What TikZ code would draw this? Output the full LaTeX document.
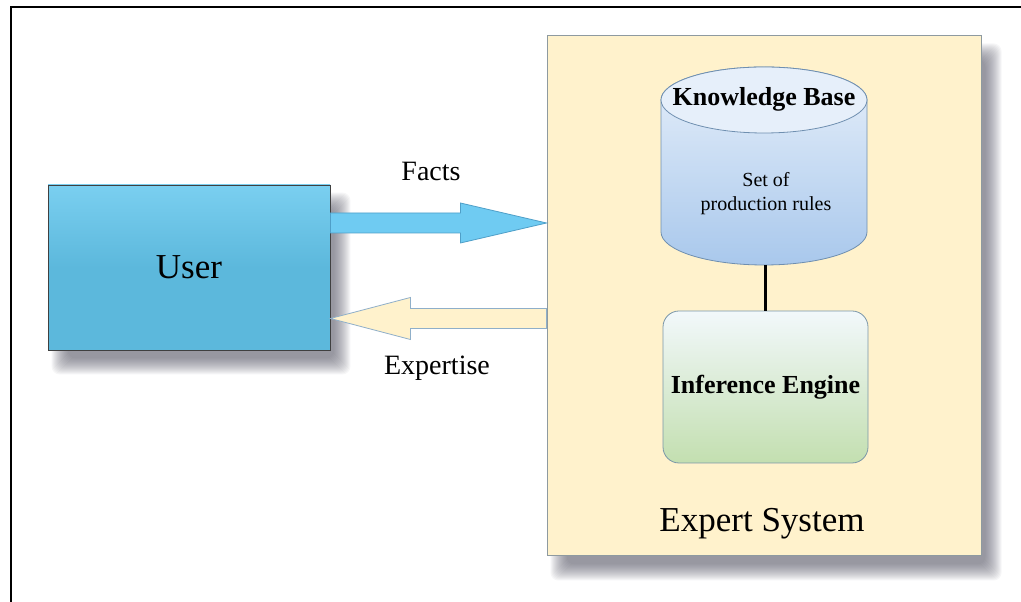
\documentclass[tikz,border=0pt]{standalone}
\usepackage{fontspec}
\setmainfont{Liberation Serif}
\usetikzlibrary{calc,backgrounds}
\definecolor{esfill}{HTML}{FFF2CC}
\definecolor{esborder}{HTML}{8E9AA0}
\definecolor{usertop}{HTML}{7ACFF0}
\definecolor{userbot}{HTML}{5CB8DC}
\definecolor{factsfill}{HTML}{6FCBF2}
\definecolor{factsborder}{HTML}{4F9FC8}
\definecolor{expborder}{HTML}{8FAFC9}
\definecolor{cyltop}{HTML}{E6EFFA}
\definecolor{cylbot}{HTML}{A9C8EC}
\definecolor{cylborder}{HTML}{6F8FB0}
\definecolor{inftop}{HTML}{F2F8FB}
\definecolor{infbot}{HTML}{C3DFB0}
\definecolor{infborder}{HTML}{7A96A8}
\definecolor{shadowcol}{HTML}{5A5A6A}
\tikzset{
  shadowlayer/.style={fill=shadowcol,opacity=0.05,rounded corners=8pt},
  bigtext/.style={font=\fontsize{35}{40}\selectfont},
  arrowtext/.style={font=\fontsize{28}{32}\selectfont},
  boldtext/.style={font=\fontsize{26}{30}\selectfont\bfseries},
}
\begin{document}
\begin{tikzpicture}[x=1pt,y=1pt]
\useasboundingbox (0,0) rectangle (1021,602);
% expert system box
\node[draw=esborder,fill=esfill,line width=1pt,minimum width=434pt,minimum height=520pt,inner sep=0pt] (es) at (764,306) {};
\node[bigtext,anchor=center] (estext) at (762,78) {Expert System};
% user box
\node[draw=black!75,line width=0.8pt,top color=usertop,bottom color=userbot,middle color=userbot,minimum width=282pt,minimum height=165pt,inner sep=0pt] (user) at (189,334.5) {};
\node[bigtext] (usertext) at (user.center) {User};
\begin{scope}[on background layer]
  \fill[white] (0,0) rectangle (1021,602);
  \foreach \m in {-8,...,8} {
    \fill[shadowlayer] ($(es.south west)+(12-\m,-16-\m)$) rectangle ($(es.north east)+(12+\m,-16+\m)$);
    \fill[shadowlayer] ($(user.south west)+(12-\m,-16-\m)$) rectangle ($(user.north east)+(12+\m,-16+\m)$);
  }
\end{scope}
% outer frame
\draw[line width=2pt] (11,0) -- (11,595) -- (1021,595);
% facts arrow
\coordinate (f0) at ($(user.east)+(0,44.5)$);
\coordinate (ftip) at (es.west |- f0);
\draw[draw=factsborder,fill=factsfill,line width=0.8pt]
  ($(f0)+(0,10)$) -- ($(f0)+(130,10)$) -- ($(f0)+(130,20)$) -- (ftip)
  -- ($(f0)+(130,-20)$) -- ($(f0)+(130,-10)$) -- ($(f0)+(0,-10)$) -- cycle;
\node[arrowtext] (facts) at (431,431) {Facts};
% expertise arrow
\coordinate (e0) at ($(user.east)+(0,-51)$);
\coordinate (estart) at (es.west |- e0);
\draw[draw=expborder,fill=esfill,line width=0.8pt]
  ($(estart)+(0,10)$) -- ($(e0)+(80,10)$) -- ($(e0)+(80,21)$) -- (e0)
  -- ($(e0)+(80,-21)$) -- ($(e0)+(80,-10)$) -- ($(estart)+(0,-10)$) -- cycle;
\node[arrowtext] (expertise) at (437,234) {Expertise};
% knowledge base cylinder
\shade[top color=cyltop,bottom color=cylbot,draw=cylborder,line width=0.8pt]
  (661,502) -- (661,370) arc[start angle=180,end angle=360,x radius=103,y radius=33]
  -- (867,502) arc[start angle=0,end angle=180,x radius=103,y radius=33] -- cycle;
\fill[cyltop] (764,502) ellipse[x radius=103,y radius=33];
\draw[cylborder,line width=0.8pt] (764,502) ellipse[x radius=103,y radius=33];
\node[boldtext] (kb) at (764,503) {Knowledge Base};
\node[font=\fontsize{20}{24}\selectfont,align=center] (rules) at (766,408) {Set of\\production rules};
\coordinate (kbbottom) at (765,337);
% inference engine
\node[draw=infborder,line width=0.8pt,top color=inftop,bottom color=infbot,rounded corners=16pt,minimum width=205pt,minimum height=152pt,inner sep=0pt] (ie) at (765.5,215) {};
\node[boldtext] (ietext) at (ie.center) {Inference Engine};
\draw[line width=3pt] (kbbottom) -- (ie.north -| kbbottom);
\end{tikzpicture}
\end{document}
